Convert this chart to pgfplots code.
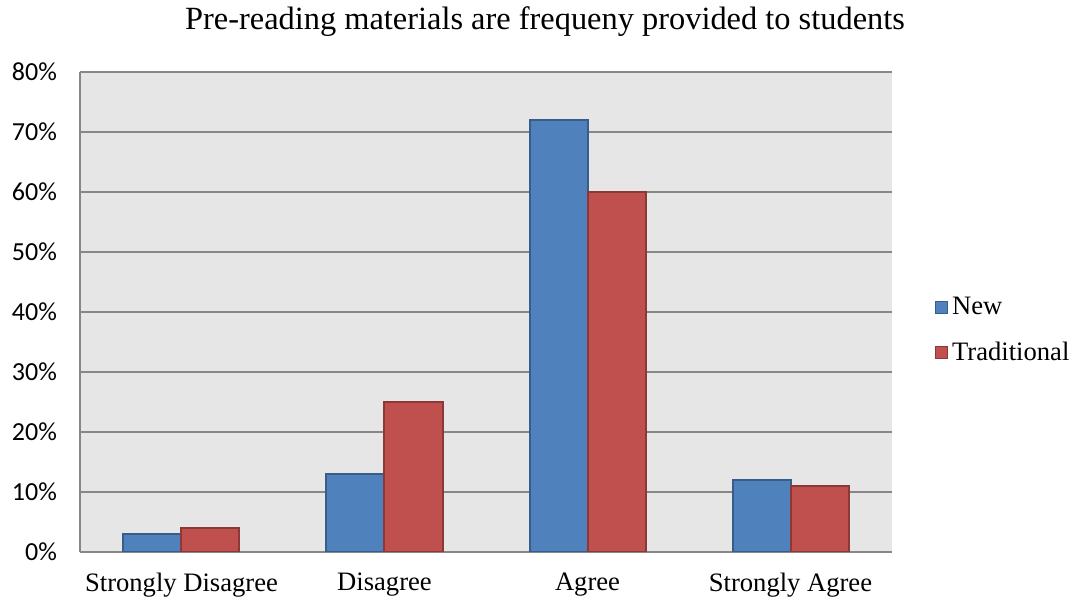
\documentclass[border=0pt]{standalone}
\usepackage{fontspec}
\setmainfont{Liberation Serif}
\newfontfamily\carlito{Carlito}
\usepackage{pgfplots}
\pgfplotsset{compat=1.18}
\definecolor{newblue}{HTML}{4F81BD}
\definecolor{newblueD}{HTML}{385D8A}
\definecolor{tradred}{HTML}{C0504D}
\definecolor{tradredD}{HTML}{8C3836}
\definecolor{bggray}{HTML}{E6E6E6}
\definecolor{gridgray}{HTML}{878787}
\begin{document}
\begin{tikzpicture}[x=0.5pt,y=0.5pt]
\path[use as bounding box] (-80,-48) rectangle (998,552);
\begin{axis}[
  at={(50.75pt,0pt)}, anchor=origin,
  scale only axis, width=406pt, height=240pt,
  ybar=0pt, bar width=29pt,
  ymin=0, ymax=80, xmin=-0.5, xmax=3.5,
  xtick={0,1,2,3},
  xticklabels={Strongly Disagree,Disagree,Agree,Strongly Agree},
  ytick={0,10,...,80},
  yticklabel={\pgfmathprintnumber{\tick}\%},
  /pgf/number format/assume math mode=true,
  yticklabel style={font=\carlito\fontsize{13}{15}\selectfont, xshift=-8pt},
  xticklabel style={font=\fontsize{13.3}{15}\selectfont, yshift=-7pt},
  major tick length=0pt,
  axis background/.style={fill=bggray},
  axis lines*=left,
  axis line style={-, draw=gridgray, line width=1pt},
  ymajorgrids,
  grid style={gridgray, line width=1pt},
  legend style={draw=none, fill=none, at={(1.045,0.462)}, anchor=west,
    font=\fontsize{13.3}{15}\selectfont, row sep=8pt},
  legend cell align=left,
  legend image code/.code={\draw[#1, line width=0.6pt] (0pt,-3pt) rectangle (6pt,3pt);},
]
\addplot[fill=newblue, draw=newblueD, line width=1pt] coordinates {(0,3) (1,13) (2,72) (3,12)};
\addplot[fill=tradred, draw=tradredD, line width=1pt] coordinates {(0,4) (1,25) (2,60) (3,11)};
\legend{New,Traditional}
\end{axis}
\node[font=\fontsize{16.2}{19}\selectfont] at (465,530) {Pre-reading materials are frequeny provided to students};
\end{tikzpicture}
\end{document}
